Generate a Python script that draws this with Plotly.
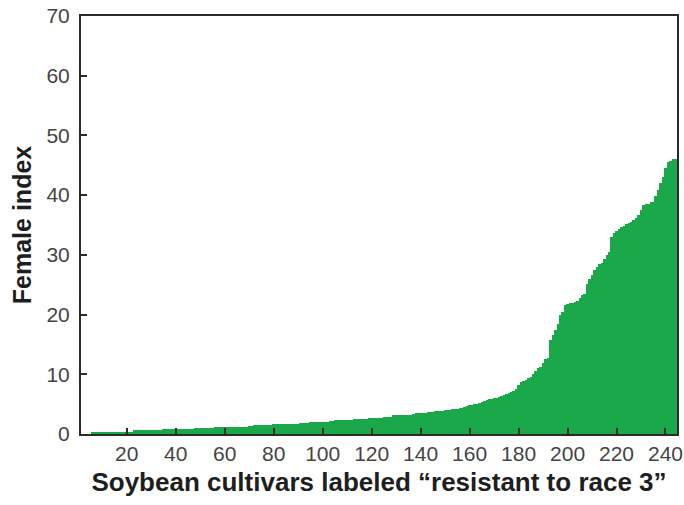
import plotly.graph_objects as go

# Cultivar rank (1 = lowest female index) and measured female index, sorted ascending
cultivar_rank = list(range(1, 245))
female_index = [
    0.0, 0.0, 0.0, 0.0, 0.0,
    0.3, 0.3, 0.3, 0.3, 0.3, 0.3, 0.3, 0.3, 0.3, 0.3, 0.35, 0.35, 0.35, 0.35, 0.4, 0.4, 0.4,
    0.7, 0.7, 0.7, 0.7, 0.7, 0.7, 0.7, 0.75, 0.75, 0.75, 0.75, 0.75, 0.8, 0.8, 0.8, 0.8, 0.8, 0.8,
    0.9, 0.9, 0.9, 0.9, 0.9, 0.9, 0.9, 0.95, 0.95, 0.95, 0.95, 1.0, 1.0, 1.0, 1.0,
    1.1, 1.1, 1.1, 1.1, 1.1, 1.15, 1.15, 1.15, 1.2, 1.2, 1.2, 1.2, 1.25, 1.25, 1.3, 1.3,
    1.5, 1.5, 1.5, 1.5, 1.5, 1.55, 1.55, 1.55, 1.6, 1.6, 1.6, 1.6, 1.65, 1.65, 1.65, 1.7, 1.7, 1.7, 1.7,
    1.9, 1.9, 1.9, 1.9, 1.95, 1.95, 1.95, 2.0, 2.0, 2.0, 2.05, 2.05, 2.1, 2.1,
    2.3, 2.3, 2.3, 2.35, 2.35, 2.4, 2.4, 2.4, 2.45, 2.45, 2.5, 2.5, 2.55, 2.55, 2.6, 2.6,
    2.7, 2.7, 2.75, 2.75, 2.8, 2.8, 2.85, 2.9,
    3.1, 3.1, 3.15, 3.15, 3.2, 3.2, 3.25, 3.25, 3.3,
    3.5, 3.5, 3.55, 3.6, 3.6, 3.65, 3.7, 3.7,
    3.8, 3.85, 3.9, 3.9, 3.95, 4.0,
    4.1, 4.15, 4.2, 4.25, 4.3, 4.4,
    4.6, 4.7, 4.8, 4.9, 5.0, 5.1, 5.25, 5.4,
    5.6, 5.7, 5.8, 5.9, 6.0, 6.1, 6.2,
    6.4, 6.5, 6.7, 6.85, 7.0,
    7.2, 7.6, 8.2,
    8.7, 8.9, 9.1, 9.3,
    9.5, 10.0, 10.5, 11.0,
    11.3, 11.9, 12.5,
    12.7, 15.7,
    16.5, 17.4,
    18.5, 19.9, 20.5,
    21.6, 21.8, 21.9, 22.0, 22.1,
    22.3, 22.8, 23.2, 23.5,
    25.2, 26.0, 26.7, 27.4,
    28.0, 28.4, 28.6,
    29.3, 30.0, 30.5,
    33.0, 33.6, 34.0, 34.4,
    34.6, 34.9, 35.1, 35.3, 35.5,
    35.8, 36.1, 36.6,
    37.5, 38.4,
    38.5, 38.6, 38.8, 38.9,
    39.8, 40.8,
    42.0, 43.1,
    44.5,
    45.6,
    45.8, 46.0, 46.0,
]

x_ticks = [20, 40, 60, 80, 100, 120, 140, 160, 180, 200, 220, 240]
y_ticks = [0, 10, 20, 30, 40, 50, 60, 70]

GREEN = "#1aa84b"
FRAME = "#2b2b2b"
TEXT = "#444444"

fig = go.Figure(
    go.Bar(
        x=cultivar_rank,
        y=female_index,
        width=1.0,
        marker=dict(color=GREEN, line=dict(width=0)),
        hoverinfo="x+y",
    )
)

fig.update_layout(
    width=684,
    height=505,
    margin=dict(l=81, r=7, t=16, b=71),
    paper_bgcolor="white",
    plot_bgcolor="white",
    bargap=0,
    showlegend=False,
    font=dict(family="Liberation Sans, Arial, Helvetica, sans-serif", color=TEXT),
)

fig.update_xaxes(
    range=[1.3, 244.7],
    automargin=False,
    tickmode="array",
    tickvals=x_ticks,
    ticktext=[str(v) for v in x_ticks],
    ticks="inside",
    ticklen=6,
    tickwidth=2,
    tickcolor=FRAME,
    tickfont=dict(size=21, color=TEXT),
    showline=True,
    linecolor=FRAME,
    linewidth=2,
    mirror=True,
    showgrid=False,
    zeroline=False,
    title=dict(
        text="<b>Soybean cultivars labeled “resistant to race 3”</b>",
        font=dict(size=26, color="#1e1e1e"),
        standoff=9,
    ),
)

fig.update_yaxes(
    range=[0, 70],
    automargin=False,
    tickmode="array",
    tickvals=y_ticks,
    ticktext=[str(v) for v in y_ticks],
    ticks="inside",
    ticklen=6,
    tickwidth=2,
    tickcolor=FRAME,
    tickfont=dict(size=21, color=TEXT),
    ticklabelstandoff=5,
    showline=True,
    linecolor=FRAME,
    linewidth=2,
    mirror=True,
    showgrid=False,
    zeroline=False,
    title=dict(
        text="<b>Female index</b>",
        font=dict(size=25, color="#1e1e1e"),
        standoff=8,
    ),
)

fig.write_html("out.html")
